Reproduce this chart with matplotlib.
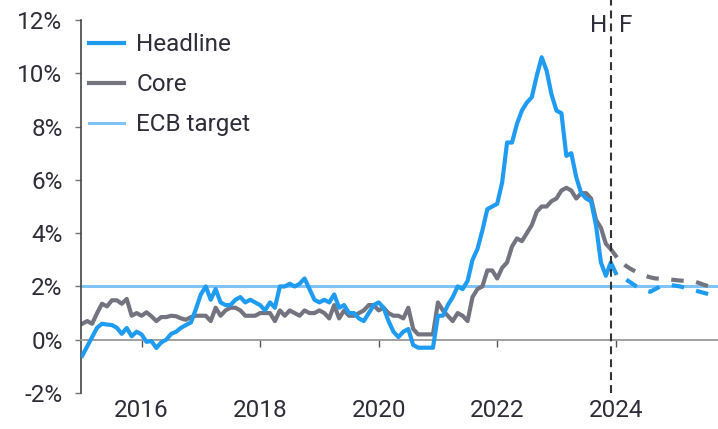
import numpy as np
import matplotlib.pyplot as plt

plt.rcParams['font.family'] = ['Roboto', 'DejaVu Sans']

# monthly data, Jan 2015 - Jan 2024 (y/y %)
headline = [
    -0.6, -0.25, 0.1, 0.45, 0.6, 0.57, 0.55, 0.45, 0.22, 0.44, 0.13, 0.3,   # 2015
    0.2, -0.08, -0.05, -0.31, -0.1, 0.0, 0.22, 0.3, 0.45, 0.55, 0.65, 1.15,  # 2016
    1.7, 2.0, 1.5, 1.9, 1.4, 1.3, 1.3, 1.5, 1.6, 1.4, 1.5, 1.4,             # 2017
    1.3, 1.1, 1.4, 1.2, 2.0, 2.0, 2.1, 2.0, 2.1, 2.3, 1.9, 1.5,             # 2018
    1.4, 1.5, 1.4, 1.7, 1.2, 1.3, 1.0, 1.0, 0.8, 0.7, 1.0, 1.3,             # 2019
    1.4, 1.2, 0.7, 0.3, 0.1, 0.3, 0.4, -0.2, -0.3, -0.3, -0.3, -0.3,        # 2020
    0.9, 0.9, 1.3, 1.6, 2.0, 1.9, 2.2, 3.0, 3.4, 4.1, 4.9, 5.0,             # 2021
    5.1, 5.9, 7.4, 7.4, 8.1, 8.6, 8.9, 9.1, 9.9, 10.6, 10.1, 9.2,           # 2022
    8.6, 8.5, 6.9, 7.0, 6.1, 5.5, 5.3, 5.2, 4.3, 2.9, 2.4, 2.9,             # 2023
    2.5,                                                                     # 2024
]
core = [
    0.6, 0.7, 0.6, 1.0, 1.35, 1.25, 1.48, 1.48, 1.35, 1.53, 0.9, 1.0,
    0.9, 1.03, 0.88, 0.7, 0.85, 0.85, 0.9, 0.88, 0.8, 0.75, 0.85, 0.9,
    0.9, 0.9, 0.7, 1.2, 0.9, 1.1, 1.2, 1.2, 1.1, 0.9, 0.9, 0.9,
    1.0, 1.0, 1.0, 0.7, 1.1, 0.9, 1.1, 1.0, 0.9, 1.1, 1.0, 1.0,
    1.1, 1.0, 0.8, 1.3, 0.8, 1.1, 0.9, 0.9, 1.0, 1.1, 1.3, 1.3,
    1.1, 1.2, 1.0, 0.9, 0.9, 0.8, 1.2, 0.4, 0.2, 0.2, 0.2, 0.2,
    1.4, 1.1, 0.9, 0.7, 1.0, 0.9, 0.7, 1.6, 1.9, 2.0, 2.6, 2.6,
    2.3, 2.7, 2.9, 3.5, 3.8, 3.7, 4.0, 4.3, 4.8, 5.0, 5.0, 5.2,
    5.3, 5.6, 5.7, 5.6, 5.3, 5.5, 5.5, 5.3, 4.5, 4.2, 3.6, 3.4,
    3.15,
]
# forecasts, Jan 2024 - Oct 2025
headline_fc = [2.5, 2.4, 2.27, 2.15, 2.02, 1.92, 1.85, 1.8, 1.9, 2.0, 2.05,
               2.05, 2.03, 2.0, 1.95, 1.9, 1.85, 1.8, 1.75, 1.7, 1.65, 1.6]
core_fc = [3.15, 2.95, 2.78, 2.66, 2.56, 2.48, 2.4, 2.34, 2.3, 2.29, 2.28,
           2.26, 2.24, 2.22, 2.21, 2.2, 2.18, 2.12, 2.05, 2.0, 1.98, 1.97]
ecb_target = 2.0
year_ticks = [2016, 2018, 2020, 2022, 2024]
y_ticks = [-2, 0, 2, 4, 6, 8, 10, 12]

blue = '#1f9bf2'
grey = '#747480'
light = '#80c4f6'
txt = '#2e2e38'

x_hist = 2015 + np.arange(len(headline)) / 12
x_fc = 2015 + (len(headline) - 1 + np.arange(len(headline_fc))) / 12

fig = plt.figure(figsize=(7.18, 4.29), dpi=100)
ax = fig.add_axes([0.1132, 0.0839, 0.8868, 0.9161])

ax.axhline(ecb_target, color=light, lw=2.2, zorder=1)
ax.plot(x_hist, headline, color=blue, lw=3, label='Headline', zorder=3,
        solid_joinstyle='round')
ax.plot(x_hist, core, color=grey, lw=3, label='Core', zorder=2,
        solid_joinstyle='round')
ax.plot(x_fc, headline_fc, color=blue, lw=3, ls=(3, (3, 3)), zorder=3)
ax.plot(x_fc, core_fc, color=grey, lw=3, ls=(3, (3, 3)), zorder=2)
ax.plot([], [], color=light, lw=2.2, label='ECB target')

# history / forecast split
xv = 2015 + 107 / 12
ax.axvline(xv, color='#333333', lw=1.5, ls=(0, (3.8, 2.4)), zorder=4)
ax.annotate('H', (xv, 12.75), xytext=(-4, -25), textcoords='offset pixels',
            ha='right', va='center', fontsize=17.5, color=txt)
ax.annotate('F', (xv, 12.75), xytext=(8, -25), textcoords='offset pixels',
            ha='left', va='center', fontsize=17.5, color=txt)

ax.set_xlim(2015 - 0.2 / 12, 2015 + 128.7 / 12)
ax.set_ylim(-2, 12.75)

for s in ['top', 'right']:
    ax.spines[s].set_visible(False)
ax.spines['left'].set_bounds(-2, 12)
ax.spines['left'].set_color('#444444')
ax.spines['left'].set_linewidth(1.2)
ax.spines['bottom'].set_position(('data', 0))
ax.spines['bottom'].set_color('#999999')
ax.spines['bottom'].set_linewidth(1.3)

ax.set_yticks(y_ticks)
ax.set_yticklabels([f'{v}%' for v in y_ticks])
ax.tick_params(axis='y', direction='out', length=4.5, width=1, color='#777777',
               labelsize=17.5, labelcolor=txt, pad=9)
ax.set_xticks(year_ticks)
ax.tick_params(axis='x', direction='out', length=5, width=1, color='#555555',
               labelbottom=False)
for yr in year_ticks:
    ax.text(yr, -2.65, str(yr), ha='center', va='center', fontsize=17.5,
            color=txt, clip_on=False)

leg = ax.legend(loc='upper left', bbox_to_anchor=(0.012, 0.915), frameon=False,
                fontsize=17.5, handlelength=1.45, handletextpad=0.5,
                labelspacing=0.7, borderaxespad=0, borderpad=0)
for t in leg.get_texts():
    t.set_color(txt)

fig.savefig('out.png', dpi=100)
